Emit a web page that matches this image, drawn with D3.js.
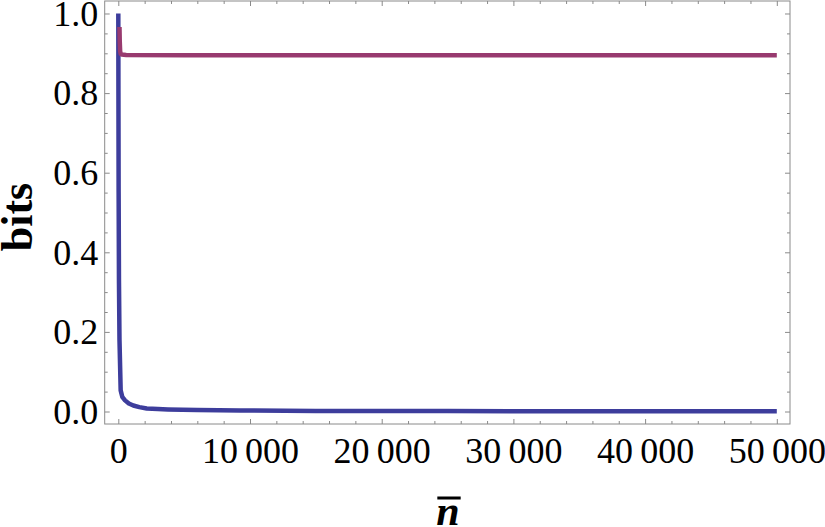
<!DOCTYPE html>
<html>
<head>
<meta charset="utf-8">
<script src="https://cdn.jsdelivr.net/npm/d3@7"></script>
<style>
  body { margin: 0; background: #fff; }
  svg { display: block; }
</style>
</head>
<body>
<div id="container"></div>
<script>
// values (n-bar vs bits)
const blueN    = [0, 10, 25, 50, 90, 180, 300, 510, 800, 1140, 1600, 2160, 3000, 3770, 6000, 9240, 15000, 25000, 35000, 50000]
const blueBits = [1.0, 0.8, 0.55, 0.33, 0.18, 0.053, 0.037, 0.028, 0.02, 0.015, 0.011, 0.0075, 0.006, 0.005, 0.0035, 0.0025, 0.0015, 0.001, 0.0007, 0.0005]

const redN    = [90, 110, 140, 180, 250, 600, 5000, 50000]
const redBits = [0.966, 0.93, 0.905, 0.899, 0.897, 0.896, 0.895, 0.895]

const xMajor = [0, 10000, 20000, 30000, 40000, 50000]
const yMajor = [0, 0.2, 0.4, 0.6, 0.8, 1.0]

const width = 825,
  height = 527,
  frame = { left: 104.7, right: 790, top: 1, bottom: 424 }

const xScale = d3.scaleLinear()
  .domain([-1033, 51002])
  .range([frame.left, frame.right])

const yScale = d3.scaleLinear()
  .domain([-0.0314, 1.0314])
  .range([frame.bottom, frame.top])

const svg = d3.select("#container")
  .append("svg")
  .attr("width", width)
  .attr("height", height)

// minor ticks every 2000 / 0.05
const xMinor = d3.range(-2000, 51001, 2000).filter(v => v % 10000 !== 0 && v > -1033)
const yMinor = d3.range(0, 1.0001, 0.05).map(v => +v.toFixed(2)).filter(v => Math.round(v * 100) % 20 !== 0)

const fmtX = d => d3.format(",")(d).replace(/,/g, "\u2009")
const frameColor = "#8a8a8a"

function tickLayer(axis, transform) {
  const g = svg.append("g").attr("transform", transform).call(axis)
  g.select(".domain").remove()
  g.selectAll(".tick line").attr("stroke", frameColor).attr("stroke-width", 1)
  return g
}

// major + minor, all four sides, inward
const xb = tickLayer(d3.axisBottom(xScale).tickValues(xMajor).tickSizeInner(-5).tickSizeOuter(0).tickFormat(fmtX),
  `translate(0,${frame.bottom})`)
tickLayer(d3.axisBottom(xScale).tickValues(xMinor).tickSizeInner(-3).tickSizeOuter(0).tickFormat(""),
  `translate(0,${frame.bottom})`)
tickLayer(d3.axisTop(xScale).tickValues(xMajor).tickSizeInner(-5).tickSizeOuter(0).tickFormat(""),
  `translate(0,${frame.top})`)
tickLayer(d3.axisTop(xScale).tickValues(xMinor).tickSizeInner(-3).tickSizeOuter(0).tickFormat(""),
  `translate(0,${frame.top})`)

const yl = tickLayer(d3.axisLeft(yScale).tickValues(yMajor).tickSizeInner(-5).tickSizeOuter(0).tickFormat(d3.format(".1f")),
  `translate(${frame.left},0)`)
tickLayer(d3.axisLeft(yScale).tickValues(yMinor).tickSizeInner(-3).tickSizeOuter(0).tickFormat(""),
  `translate(${frame.left},0)`)
tickLayer(d3.axisRight(yScale).tickValues(yMajor).tickSizeInner(-5).tickSizeOuter(0).tickFormat(""),
  `translate(${frame.right},0)`)
tickLayer(d3.axisRight(yScale).tickValues(yMinor).tickSizeInner(-3).tickSizeOuter(0).tickFormat(""),
  `translate(${frame.right},0)`)

xb.selectAll(".tick text")
  .attr("y", 39).attr("dy", 0)
  .attr("fill", "#000")
  .attr("font-family", "'Liberation Serif', 'Times New Roman', serif")
  .attr("font-size", 36)

yl.selectAll(".tick text")
  .attr("x", -6.5)
  .attr("dy", "0.33em")
  .attr("fill", "#000")
  .attr("font-family", "'Liberation Serif', 'Times New Roman', serif")
  .attr("font-size", 36)

// frame
svg.append("rect")
  .attr("x", frame.left).attr("y", frame.top)
  .attr("width", frame.right - frame.left)
  .attr("height", frame.bottom - frame.top)
  .attr("fill", "none")
  .attr("stroke", frameColor)
  .attr("stroke-width", 1)

// lines
const lineGen = d3.line()
  .x(d => xScale(d[0]))
  .y(d => yScale(d[1]))

svg.append("path")
  .datum(blueN.map((n, i) => [n, blueBits[i]]))
  .attr("fill", "none")
  .attr("stroke", "#3d3d9c")
  .attr("stroke-width", 4.5)
  .attr("stroke-linejoin", "round")
  .attr("d", lineGen)

svg.append("path")
  .datum(redN.map((n, i) => [n, redBits[i]]))
  .attr("fill", "none")
  .attr("stroke", "#983a6f")
  .attr("stroke-width", 4.5)
  .attr("stroke-linejoin", "round")
  .attr("d", lineGen)

// axis titles
svg.append("text")
  .attr("transform", `translate(32, 217) rotate(-90)`)
  .attr("text-anchor", "middle")
  .attr("font-family", "'Liberation Serif', 'Times New Roman', serif")
  .attr("font-weight", "bold")
  .attr("font-size", 44)
  .text("bits")

const nLabel = svg.append("text")
  .attr("x", 448)
  .attr("y", 525)
  .attr("text-anchor", "middle")
  .attr("font-family", "'Liberation Serif', 'Times New Roman', serif")
  .attr("font-weight", "bold")
  .attr("font-style", "italic")
  .attr("font-size", 42)
  .text("n")

const bb = nLabel.node().getBBox()
svg.append("line")
  .attr("x1", bb.x + 1).attr("x2", bb.x + bb.width + 1)
  .attr("y1", 498).attr("y2", 498)
  .attr("stroke", "#000")
  .attr("stroke-width", 3)
</script>
</body>
</html>
